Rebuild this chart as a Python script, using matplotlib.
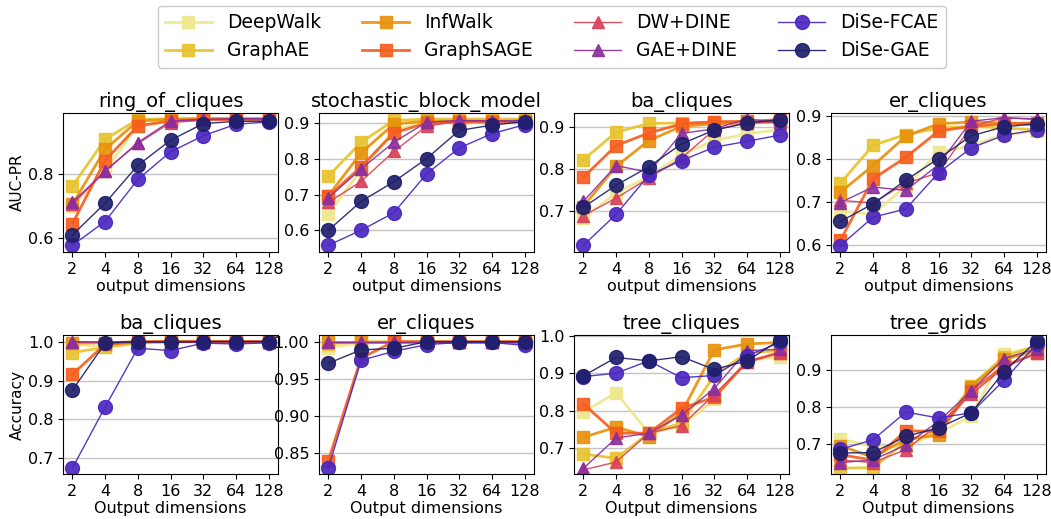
import matplotlib
matplotlib.use("Agg")
import matplotlib.pyplot as plt

dims = [2, 4, 8, 16, 32, 64, 128]
dim_labels = ["2", "4", "8", "16", "32", "64", "128"]

methods = ["DeepWalk", "GraphAE", "InfWalk", "GraphSAGE", "DW+DINE", "GAE+DINE", "DiSe-FCAE", "DiSe-GAE"]

# ---- AUC-PR (top row) ----
ring_of_cliques = {
    "DeepWalk":  [0.700, 0.810, 0.950, 0.965, 0.970, 0.970, 0.970],
    "GraphAE":   [0.762, 0.908, 0.970, 0.972, 0.973, 0.973, 0.973],
    "InfWalk":   [0.705, 0.877, 0.965, 0.970, 0.972, 0.972, 0.972],
    "GraphSAGE": [0.645, 0.842, 0.950, 0.965, 0.970, 0.970, 0.970],
    "DW+DINE":   [0.705, 0.810, 0.895, 0.960, 0.968, 0.970, 0.970],
    "GAE+DINE":  [0.712, 0.808, 0.898, 0.965, 0.970, 0.972, 0.972],
    "DiSe-FCAE": [0.578, 0.652, 0.783, 0.869, 0.919, 0.955, 0.962],
    "DiSe-GAE":  [0.610, 0.709, 0.827, 0.905, 0.957, 0.964, 0.964],
}
stochastic_block_model = {
    "DeepWalk":  [0.645, 0.770, 0.880, 0.905, 0.908, 0.908, 0.908],
    "GraphAE":   [0.752, 0.847, 0.908, 0.912, 0.912, 0.912, 0.912],
    "InfWalk":   [0.697, 0.817, 0.898, 0.906, 0.906, 0.906, 0.906],
    "GraphSAGE": [0.695, 0.778, 0.873, 0.901, 0.904, 0.904, 0.905],
    "DW+DINE":   [0.678, 0.737, 0.821, 0.892, 0.906, 0.905, 0.905],
    "GAE+DINE":  [0.691, 0.772, 0.847, 0.903, 0.908, 0.907, 0.908],
    "DiSe-FCAE": [0.558, 0.600, 0.649, 0.758, 0.831, 0.871, 0.896],
    "DiSe-GAE":  [0.600, 0.681, 0.736, 0.801, 0.880, 0.895, 0.905],
}
ba_cliques_auc = {
    "DeepWalk":  [0.682, 0.742, 0.782, 0.834, 0.868, 0.884, 0.894],
    "GraphAE":   [0.822, 0.888, 0.909, 0.910, 0.912, 0.912, 0.913],
    "InfWalk":   [0.710, 0.806, 0.868, 0.902, 0.908, 0.910, 0.912],
    "GraphSAGE": [0.780, 0.856, 0.886, 0.908, 0.913, 0.914, 0.918],
    "DW+DINE":   [0.688, 0.730, 0.778, 0.826, 0.894, 0.910, 0.914],
    "GAE+DINE":  [0.722, 0.808, 0.792, 0.885, 0.896, 0.920, 0.910],
    "DiSe-FCAE": [0.617, 0.691, 0.785, 0.820, 0.852, 0.866, 0.881],
    "DiSe-GAE":  [0.708, 0.761, 0.805, 0.860, 0.893, 0.910, 0.918],
}
er_cliques_auc = {
    "DeepWalk":  [0.678, 0.670, 0.736, 0.815, 0.830, 0.856, 0.864],
    "GraphAE":   [0.743, 0.831, 0.856, 0.871, 0.875, 0.871, 0.867],
    "InfWalk":   [0.722, 0.784, 0.852, 0.881, 0.885, 0.883, 0.879],
    "GraphSAGE": [0.610, 0.753, 0.803, 0.864, 0.875, 0.881, 0.883],
    "DW+DINE":   [0.703, 0.697, 0.743, 0.767, 0.875, 0.895, 0.891],
    "GAE+DINE":  [0.698, 0.734, 0.726, 0.786, 0.887, 0.895, 0.892],
    "DiSe-FCAE": [0.598, 0.664, 0.683, 0.767, 0.825, 0.854, 0.867],
    "DiSe-GAE":  [0.654, 0.695, 0.750, 0.800, 0.853, 0.874, 0.881],
}

# ---- Accuracy (bottom row) ----
ba_cliques_acc = {
    "DeepWalk":  [0.993, 0.987, 0.995, 1.000, 1.000, 1.000, 1.000],
    "GraphAE":   [0.972, 0.985, 0.997, 1.000, 1.000, 1.000, 1.000],
    "InfWalk":   [0.996, 0.997, 1.000, 1.000, 1.000, 1.000, 1.000],
    "GraphSAGE": [0.916, 0.993, 0.999, 1.000, 1.000, 1.000, 1.000],
    "DW+DINE":   [0.998, 0.998, 0.999, 1.000, 1.000, 1.000, 1.000],
    "GAE+DINE":  [1.000, 0.999, 1.000, 1.000, 1.000, 1.000, 1.000],
    "DiSe-FCAE": [0.675, 0.832, 0.983, 0.977, 0.996, 0.994, 0.997],
    "DiSe-GAE":  [0.875, 0.996, 1.000, 0.998, 1.000, 1.000, 1.000],
}
er_cliques_acc = {
    "DeepWalk":  [0.992, 0.998, 1.000, 1.000, 1.000, 1.000, 1.000],
    "GraphAE":   [0.997, 1.000, 1.000, 1.000, 1.000, 1.000, 1.000],
    "InfWalk":   [1.000, 1.000, 1.000, 1.000, 1.000, 1.000, 1.000],
    "GraphSAGE": [0.840, 0.978, 1.000, 1.000, 1.000, 1.000, 1.000],
    "DW+DINE":   [1.000, 1.000, 1.000, 1.000, 1.000, 1.000, 1.000],
    "GAE+DINE":  [1.000, 1.000, 1.000, 1.000, 1.000, 1.000, 1.000],
    "DiSe-FCAE": [0.830, 0.975, 0.987, 0.996, 0.999, 0.999, 0.995],
    "DiSe-GAE":  [0.971, 0.989, 0.991, 1.000, 1.000, 1.000, 1.000],
}
tree_cliques = {
    "DeepWalk":  [0.796, 0.848, 0.740, 0.758, 0.830, 0.935, 0.942],
    "GraphAE":   [0.684, 0.673, 0.740, 0.767, 0.893, 0.955, 0.960],
    "InfWalk":   [0.729, 0.756, 0.731, 0.794, 0.962, 0.978, 0.982],
    "GraphSAGE": [0.818, 0.740, 0.740, 0.806, 0.836, 0.930, 0.955],
    "DW+DINE":   [0.642, 0.663, 0.740, 0.760, 0.843, 0.930, 0.955],
    "GAE+DINE":  [0.646, 0.727, 0.740, 0.788, 0.859, 0.960, 0.964],
    "DiSe-FCAE": [0.891, 0.900, 0.933, 0.888, 0.894, 0.946, 0.982],
    "DiSe-GAE":  [0.893, 0.942, 0.933, 0.944, 0.910, 0.933, 0.988],
}
tree_grids = {
    "DeepWalk":  [0.713, 0.693, 0.693, 0.729, 0.775, 0.943, 0.965],
    "GraphAE":   [0.634, 0.635, 0.706, 0.734, 0.858, 0.936, 0.965],
    "InfWalk":   [0.695, 0.663, 0.713, 0.723, 0.855, 0.929, 0.952],
    "GraphSAGE": [0.670, 0.656, 0.735, 0.734, 0.843, 0.911, 0.945],
    "DW+DINE":   [0.656, 0.649, 0.684, 0.752, 0.834, 0.906, 0.947],
    "GAE+DINE":  [0.649, 0.656, 0.697, 0.761, 0.843, 0.931, 0.958],
    "DiSe-FCAE": [0.685, 0.711, 0.786, 0.770, 0.784, 0.872, 0.970],
    "DiSe-GAE":  [0.675, 0.676, 0.720, 0.743, 0.784, 0.895, 0.979],
}

titles = ["ring_of_cliques", "stochastic_block_model", "ba_cliques", "er_cliques",
          "ba_cliques", "er_cliques", "tree_cliques", "tree_grids"]
panels = [ring_of_cliques, stochastic_block_model, ba_cliques_auc, er_cliques_auc,
          ba_cliques_acc, er_cliques_acc, tree_cliques, tree_grids]
ylims = [(0.557, 0.99), (0.539, 0.929), (0.601, 0.934), (0.583, 0.906),
         (0.660, 1.017), (0.822, 1.009), (0.631, 1.002), (0.618, 0.995)]
yticks = [[0.6, 0.8], [0.6, 0.7, 0.8, 0.9], [0.7, 0.8, 0.9], [0.6, 0.7, 0.8, 0.9],
          [0.7, 0.8, 0.9, 1.0], [0.85, 0.90, 0.95, 1.00], [0.7, 0.8, 0.9, 1.0], [0.7, 0.8, 0.9]]
ytick_fmt = ["%.1f", "%.1f", "%.1f", "%.1f", "%.1f", "%.2f", "%.1f", "%.1f"]

colors = {
    "DeepWalk": "#eee78c",
    "GraphAE": "#e8c32e",
    "InfWalk": "#e8930c",
    "GraphSAGE": "#f65e1f",
    "DW+DINE": "#d9415a",
    "GAE+DINE": "#8b2f9e",
    "DiSe-FCAE": "#4a27bf",
    "DiSe-GAE": "#1f1f6b",
}
styles = {
    "DeepWalk": dict(marker="s", lw=2.0, ms=8),
    "GraphAE": dict(marker="s", lw=2.0, ms=8),
    "InfWalk": dict(marker="s", lw=2.0, ms=8),
    "GraphSAGE": dict(marker="s", lw=2.0, ms=8),
    "DW+DINE": dict(marker="^", lw=1.0, ms=9),
    "GAE+DINE": dict(marker="^", lw=1.0, ms=9),
    "DiSe-FCAE": dict(marker="o", lw=1.0, ms=10),
    "DiSe-GAE": dict(marker="o", lw=1.0, ms=10),
}

W, H = 1051, 519
fig = plt.figure(figsize=(W / 100, H / 100), dpi=100)

lefts = [63, 319, 574, 831]
width = 215
tops = [113, 335]
height = 139

handles = None
for i, (title, data) in enumerate(zip(titles, panels)):
    r, c = divmod(i, 4)
    ax = fig.add_axes([lefts[c] / W, 1 - (tops[r] + height) / H, width / W, height / H])
    hs = []
    for m in methods:
        st = styles[m]
        h, = ax.plot(dims, data[m], color=colors[m], marker=st["marker"], lw=st["lw"],
                     ms=st["ms"], alpha=0.92, label=m)
        hs.append(h)
    handles = hs
    ax.set_xscale("log", base=2)
    ax.set_xticks(dims)
    ax.set_xticklabels(dim_labels)
    ax.minorticks_off()
    ax.set_xlim(2 / 1.22, 128 * 1.22)
    ax.set_ylim(*ylims[i])
    ax.set_yticks(yticks[i])
    ax.set_yticklabels([ytick_fmt[i] % v for v in yticks[i]])
    ax.yaxis.grid(True, color="#c4c4c4", lw=1.0)
    ax.set_axisbelow(True)
    ax.tick_params(labelsize=11.5)
    ax.set_title(title, fontsize=14, pad=4)
    ax.set_xlabel("output dimensions" if r == 0 else "Output dimensions", fontsize=11.5, labelpad=2)
    if c == 0:
        ax.set_ylabel("AUC-PR" if r == 0 else "Accuracy", fontsize=11, labelpad=2)

fig.legend(handles, methods, loc="upper center", bbox_to_anchor=(0.525, 1.0), ncol=4,
           fontsize=13.5, columnspacing=2.2, handlelength=2.5, framealpha=1.0,
           borderaxespad=0.3)

fig.savefig("out.png", dpi=100)
